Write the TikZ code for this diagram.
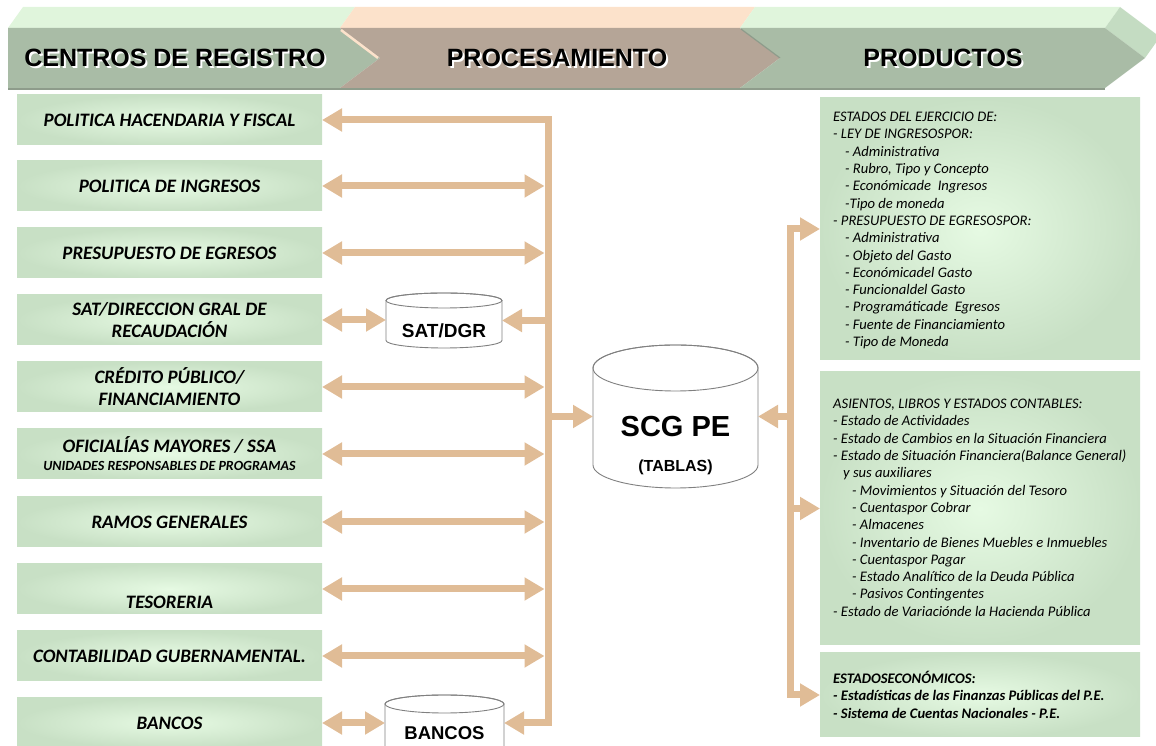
\documentclass[tikz,border=0pt]{standalone}
\usepackage{fontspec}
\setmainfont{Carlito}
\newfontfamily\arialfont{Liberation Sans}
\usetikzlibrary{arrows.meta,positioning,calc}
\definecolor{flowtan}{HTML}{E0BC96}
\definecolor{boxout}{HTML}{C8E0C5}
\definecolor{boxin}{HTML}{E6FAE3}
\definecolor{chvgreen}{HTML}{A9BCA6}
\definecolor{chvgreentop}{HTML}{E0F5DC}
\definecolor{chvgreenside}{HTML}{C4DCC2}
\definecolor{chvbrown}{HTML}{B5A597}
\definecolor{chvbrowntop}{HTML}{FCE2CB}
\definecolor{chvedge}{HTML}{8E9C8B}
\definecolor{dbgray}{HTML}{808080}
\tikzset{
  centro/.style={rectangle, minimum width=305pt, minimum height=50pt, inner sep=0pt, outer sep=0pt,
    inner color=boxin, outer color=boxout, align=center, font=\bfseries\itshape\fontsize{19}{22}\selectfont},
  centrolabel/.style={inner sep=0pt, font=\bfseries\itshape\fontsize{19}{22}\selectfont},
  producto/.style={rectangle, minimum width=320pt, inner sep=0pt, outer sep=0pt, inner color=boxin, outer color=boxout},
  prodtext/.style={anchor=north west, inner sep=0pt, align=left, font=\itshape\fontsize{14.6}{17.3}\selectfont},
  dbnode/.style={rectangle, inner sep=0pt, outer sep=0pt},
  dbline/.style={draw=dbgray, line width=0.9pt},
  dbtext/.style={inner sep=0pt, font=\arialfont\bfseries\fontsize{19}{19}\selectfont},
  flow/.style={draw=flowtan, line width=7pt, line join=miter},
  headtext/.style={inner sep=0pt, font=\arialfont\bfseries\fontsize{25}{25}\selectfont},
}
\begin{document}
\begin{tikzpicture}[x=1pt,y=1pt,>={Triangle[length=20pt,width=22pt]}]
\useasboundingbox (0,0) rectangle (1156,746);
% header chevrons
  \fill[chvgreentop] (8,718) -- (23,739) -- (355,739) -- (340,718) -- cycle;
  \fill[chvbrowntop] (340,718) -- (355,739) -- (755,739) -- (740,718) -- cycle;
  \fill[chvgreentop] (740,718) -- (755,739) -- (1120,739) -- (1105,718) -- cycle;
  \fill[chvgreenside] (1105,718) -- (1120,739) -- (1160,709) -- (1145,688) -- cycle;
  \fill[chvgreen] (8,718) -- (340,718) -- (380,688) -- (340,658) -- (8,658) -- cycle;
  \fill[chvbrown] (340,718) -- (740,718) -- (780,688) -- (740,658) -- (340,658) -- (380,688) -- cycle;
  \fill[chvgreen] (740,718) -- (1105,718) -- (1145,688) -- (1105,658) -- (740,658) -- (780,688) -- cycle;
  \draw[chvbrowntop, line width=2.5pt] (341,716) -- (378,688);
  \draw[chvedge, line width=1.2pt] (741,717) -- (780,688);
  \draw[chvedge, line width=2pt] (8,657) -- (1105,657);
% header texts
  \node[headtext, white] (hdregsh) at (177,686) {CENTROS DE REGISTRO};
  \node[headtext] (hdreg) at (175,688) {CENTROS DE REGISTRO};
  \node[headtext, white] (hdprocsh) at (559,686) {PROCESAMIENTO};
  \node[headtext] (hdproc) at (557,688) {PROCESAMIENTO};
  \node[headtext, white] (hdprodsh) at (945,686) {PRODUCTOS};
  \node[headtext] (hdprod) at (943,688) {PRODUCTOS};
% centros de registro
  \node[centro] (hac) at (169.5,626) {POLITICA HACENDARIA Y FISCAL};
  \node[centro] (ing) at (169.5,560) {POLITICA DE INGRESOS};
  \node[centro] (egr) at (169.5,493) {PRESUPUESTO DE EGRESOS};
  \node[centro] (sat) at (169.5,426) {SAT/DIRECCION GRAL DE\\RECAUDACIÓN};
  \node[centro] (cre) at (169.5,359) {CRÉDITO PÚBLICO/\\FINANCIAMIENTO};
  \node[centro] (ofi) at (169.5,292) {OFICIALÍAS MAYORES / SSA\\[-4pt]{\fontsize{14}{14}\selectfont UNIDADES RESPONSABLES DE PROGRAMAS}};
  \node[centro] (ram) at (169.5,224) {RAMOS GENERALES};
  \node[centro] (tes) at (169.5,157) {};
  \node[centrolabel] (testxt) at ([yshift=-13pt]tes.center) {TESORERIA};
  \node[centro] (con) at (169.5,90) {CONTABILIDAD GUBERNAMENTAL.};
  \node[centro] (ban) at (169.5,23) {BANCOS};
% bases de datos
  \node[dbnode, minimum width=116pt, minimum height=55pt] (satdb) at (444,425.5) {};
  \node[dbnode, minimum width=165pt, minimum height=143pt] (scg) at (675.5,329.5) {};
  \node[dbnode, minimum width=119pt, minimum height=56pt] (bandb) at (444.5,23) {};
  \draw[dbline, fill=white] ([yshift=-7.5pt]satdb.north west) -- ([yshift=7.5pt]satdb.south west)
    arc[start angle=180, end angle=360, x radius=58, y radius=7.5] -- ([yshift=-7.5pt]satdb.north east)
    arc[start angle=0, end angle=180, x radius=58, y radius=7.5] -- cycle;
  \draw[dbline] ([yshift=-7.5pt]satdb.north) ellipse[x radius=58, y radius=7.5];
  \draw[dbline, fill=white] ([yshift=-23pt]scg.north west) -- ([yshift=23pt]scg.south west)
    arc[start angle=180, end angle=360, x radius=82.5, y radius=23] -- ([yshift=-23pt]scg.north east)
    arc[start angle=0, end angle=180, x radius=82.5, y radius=23] -- cycle;
  \draw[dbline] ([yshift=-23pt]scg.north) ellipse[x radius=82.5, y radius=23];
  \draw[dbline, fill=white] ([yshift=-9pt]bandb.north west) -- ([yshift=-20pt]bandb.south west)
    arc[start angle=180, end angle=360, x radius=59.5, y radius=9] -- ([yshift=-9pt]bandb.north east)
    arc[start angle=0, end angle=180, x radius=59.5, y radius=9] -- cycle;
  \draw[dbline] ([yshift=-9pt]bandb.north) ellipse[x radius=59.5, y radius=9];
  \node[dbtext] (sattxt) at ([yshift=-10pt]satdb.center) {SAT/DGR};
  \node[dbtext, font=\arialfont\bfseries\fontsize{29}{29}\selectfont] (scgtxt) at ([yshift=-10.5pt]scg.center) {SCG PE};
  \node[dbtext, font=\arialfont\bfseries\fontsize{16}{16}\selectfont] (tabtxt) at ([yshift=-50.5pt]scg.center) {(TABLAS)};
  \node[dbtext, font=\arialfont\bfseries\fontsize{18.5}{18.5}\selectfont] (bantxt) at ([yshift=-10pt]bandb.center) {BANCOS};
% productos
  \node[producto, minimum height=262pt] (ejer) at (980,517) {};
  \node[producto, minimum height=273pt] (cont) at (980,237.5) {};
  \node[producto, minimum height=84pt] (econ) at (980,51) {};
  \node[prodtext] (ejertxt) at ([xshift=13pt,yshift=-14pt]ejer.north west) {ESTADOS DEL EJERCICIO DE:\\
    - LEY DE INGRESOSPOR:\\
    \hspace*{12pt}- Administrativa\\
    \hspace*{12pt}- Rubro, Tipo y Concepto\\
    \hspace*{12pt}- Económicade\ \ Ingresos\\
    \hspace*{12pt}-Tipo de moneda\\
    - PRESUPUESTO DE EGRESOSPOR:\\
    \hspace*{12pt}- Administrativa\\
    \hspace*{12pt}- Objeto del Gasto\\
    \hspace*{12pt}- Económicadel Gasto\\
    \hspace*{12pt}- Funcionaldel Gasto\\
    \hspace*{12pt}- Programáticade\ \ Egresos\\
    \hspace*{12pt}- Fuente de Financiamiento\\
    \hspace*{12pt}- Tipo de Moneda};
  \node[prodtext] (conttxt) at ([xshift=13pt,yshift=-27pt]cont.north west) {ASIENTOS, LIBROS Y ESTADOS CONTABLES:\\
    - Estado de Actividades\\
    - Estado de Cambios en la Situación Financiera\\
    - Estado de Situación Financiera(Balance General)\\
    \hspace*{10pt}y sus auxiliares\\
    \hspace*{19pt}- Movimientos y Situación del Tesoro\\
    \hspace*{19pt}- Cuentaspor Cobrar\\
    \hspace*{19pt}- Almacenes\\
    \hspace*{19pt}- Inventario de Bienes Muebles e Inmuebles\\
    \hspace*{19pt}- Cuentaspor Pagar\\
    \hspace*{19pt}- Estado Analítico de la Deuda Pública\\
    \hspace*{19pt}- Pasivos Contingentes\\
    - Estado de Variaciónde la Hacienda Pública};
  \node[prodtext, font=\bfseries\itshape\fontsize{14.6}{17.5}\selectfont] (econtxt) at ([xshift=13pt,yshift=-18pt]econ.north west) {ESTADOSECONÓMICOS:\\
    - Estadísticas de las Finanzas Públicas del P.E.\\
    - Sistema de Cuentas Nacionales - P.E.};
% connectors
  \coordinate (barL) at (548,0);
  \coordinate (barR) at (790,0);
  \draw[flow,<->] (hac.east) -- (hac.east -| barL) -- (bandb.east -| barL) -- (bandb.east);
  \draw[flow,<->,shorten >=3.5pt] (ing.east) -- (ing.east -| barL);
  \draw[flow,<->,shorten >=3.5pt] (egr.east) -- (egr.east -| barL);
  \draw[flow,<->,shorten >=3.5pt] (cre.east) -- (cre.east -| barL);
  \draw[flow,<->,shorten >=3.5pt] (ofi.east) -- (ofi.east -| barL);
  \draw[flow,<->,shorten >=3.5pt] (ram.east) -- (ram.east -| barL);
  \draw[flow,<->,shorten >=3.5pt] (tes.east) -- (tes.east -| barL);
  \draw[flow,<->,shorten >=3.5pt] (con.east) -- (con.east -| barL);
  \draw[flow,<->] (sat.east) -- (sat.east -| satdb.west);
  \draw[flow,<->] (ban.east) -- (ban.east -| bandb.west);
  \draw[flow,->] (satdb.east -| barL) -- (satdb.east);
  \draw[flow,->] (scg.west -| barL) -- (scg.west);
  \draw[flow,<->] (ejer.west) -- (ejer.west -| barR) -- (econ.west -| barR) -- (econ.west);
  \draw[flow,->] (cont.west -| barR) -- (cont.west);
  \draw[flow,->] (scg.east -| barR) -- (scg.east);
\end{tikzpicture}
\end{document}
